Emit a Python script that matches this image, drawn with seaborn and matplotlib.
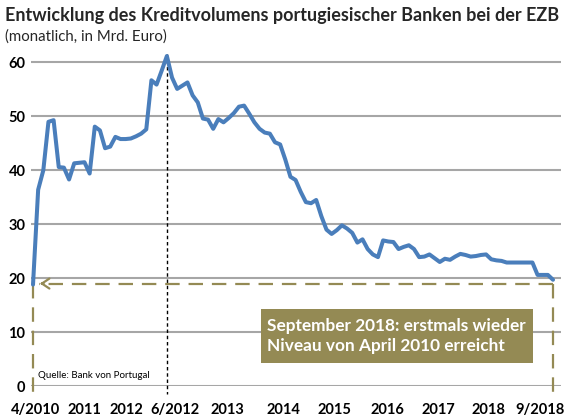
import matplotlib
matplotlib.use("Agg")
import matplotlib.pyplot as plt
import seaborn as sns
import pandas as pd
import numpy as np
from matplotlib.patches import Rectangle

# ---- data (monthly, Apr 2010 .. Sep 2018) ----
values = [18.8, 36.4, 40.0, 49.0, 49.3, 40.6, 40.5, 38.3, 41.3, 41.4,
          41.5, 39.4, 48.1, 47.4, 44.1, 44.4, 46.2, 45.8, 45.8, 45.9,
          46.3, 46.8, 47.6, 56.7, 55.9, 58.5, 61.2, 57.2, 55.1, 55.7,
          56.3, 53.9, 52.6, 49.6, 49.4, 47.7, 49.5, 48.9, 49.7, 50.6,
          51.8, 52.0, 50.5, 48.9, 47.7, 47.0, 46.8, 45.2, 44.8, 42.0,
          38.8, 38.2, 36.0, 34.1, 33.9, 34.5, 31.5, 29.0, 28.2, 28.9,
          29.8, 29.2, 28.4, 26.6, 27.2, 25.4, 24.4, 23.9, 27.0, 26.8,
          26.7, 25.4, 25.8, 26.1, 25.4, 23.9, 24.0, 24.4, 23.7, 23.0,
          23.6, 23.4, 24.0, 24.5, 24.3, 24.0, 24.1, 24.3, 24.4, 23.5,
          23.3, 23.2, 22.9, 22.9, 22.9, 22.9, 22.9, 22.9, 20.6, 20.6,
          20.6, 19.7]
months = list(range(len(values)))
peak_month = 26  # 6/2012

tick_pos = [0.5, 9.9, 18.1, 27.6, 37.7, 48.7, 58.5, 68.8, 78.7, 88.4, 98.5]
tick_labels = ["4/2010", "2011", "2012", "6/2012", "2013", "2014", "2015",
               "2016", "2017", "2018", "9/2018"]
y_ticks = [0, 10, 20, 30, 40, 50, 60]

title = "Entwicklung des Kreditvolumens portugiesischer Banken bei der EZB"
subtitle = "(monatlich, in Mrd. Euro)"
note = "September 2018: erstmals wieder\nNiveau von April 2010 erreicht"
source = "Quelle: Bank von Portugal"

df = pd.DataFrame({"month": months, "value": values})

# ---- style ----
sns.set_theme(style="white")
plt.rcParams["font.family"] = ["Lato", "DejaVu Sans"]

W, H = 568, 416
fig = plt.figure(figsize=(W / 100, H / 100), dpi=100)
ax = fig.add_axes([31 / W, (H - 386) / H, 530 / W, 337 / H])

blue = "#4A7EBB"
olive = "#948A54"
grid_c = "#A6A6A6"

for yv in y_ticks:
    ax.axhline(yv, color=grid_c, lw=1.5, zorder=1)

sns.lineplot(data=df, x="month", y="value", ax=ax, color=blue, lw=2.9,
             zorder=4, legend=False)

ax.set_xlim(-0.39, 102.55)
ax.set_ylim(0, 62.5)
ax.set_xticks(tick_pos)
ax.set_xticklabels(tick_labels, fontweight="bold", fontsize=10.5)
ax.set_yticks(y_ticks)
ax.set_yticklabels([str(v) for v in y_ticks], fontweight="bold", fontsize=10.5)
ax.tick_params(axis="x", length=0, pad=12, colors="black")
ax.tick_params(axis="y", length=0, pad=4, colors="black")
ax.set_xlabel("")
ax.set_ylabel("")
for s in ax.spines.values():
    s.set_visible(False)

# dotted vertical at peak
ax.plot([peak_month, peak_month], [max(values) + 0.3, -1.5], color="black",
        lw=1.0, ls=(0, (2.5, 2)), zorder=3, clip_on=False)

# olive dashed bracket
level = values[0] + 0.2
last = months[-1]
dash = (0, (6.5, 4))
ax.plot([last, 1.2], [level, level], color=olive, lw=1.6, ls=dash, zorder=3)
ax.plot([0, 0], [level, -1.9], color=olive, lw=1.6, ls=dash, zorder=3,
        clip_on=False)
ax.plot([last, last], [level, -1.9], color=olive, lw=1.6, ls=dash, zorder=3,
        clip_on=False)
ax.annotate("", xy=(0.8, level), xytext=(2.6, level),
            arrowprops=dict(arrowstyle="->,head_length=0.45,head_width=0.3",
                            color=olive, lw=1.6), zorder=3)

# annotation box
fig.add_artist(Rectangle((261 / W, (H - 363) / H), 272 / W, 54 / H,
                         transform=fig.transFigure, facecolor=olive,
                         edgecolor="none", zorder=5))
fig.text(267 / W, (H - 336) / H, note, color="white", fontweight="bold",
         fontsize=12.4, ha="left", va="center", linespacing=1.25, zorder=6)

# source
fig.text(38 / W, (H - 376) / H, source, fontsize=7, ha="left", va="center",
         color="black")

# titles
fig.text(5 / W, (H - 15) / H, title, fontsize=13, fontweight="bold",
         ha="left", va="center")
fig.text(5 / W, (H - 37) / H, subtitle, fontsize=10.8, ha="left", va="center")

fig.savefig("out.png", dpi=100)
